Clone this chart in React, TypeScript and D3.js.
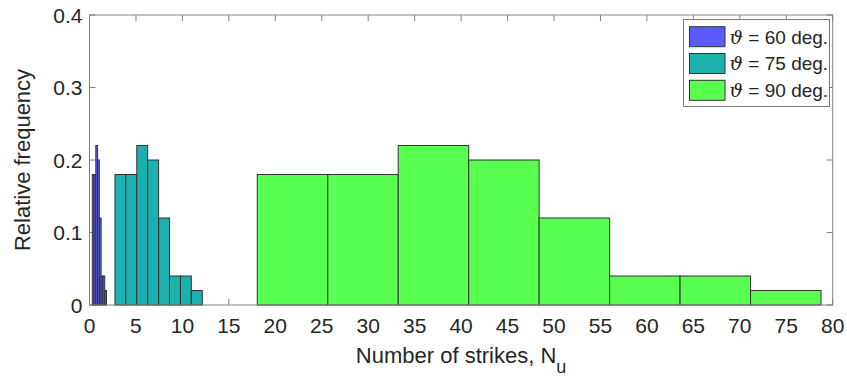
import React, { useEffect } from "react";
import * as d3 from "d3";

// ---- data ----
const freq60 = [0.18, 0.18, 0.22, 0.2, 0.12, 0.04, 0.04, 0.02];
const edges60 = [0.3, 0.49, 0.68, 0.87, 1.06, 1.25, 1.45, 1.64, 1.83];
const freq75 = [0.18, 0.18, 0.22, 0.2, 0.12, 0.04, 0.04, 0.02];
const edges75 = [2.74, 3.91, 5.09, 6.26, 7.44, 8.61, 9.79, 10.96, 12.14];
const freq90 = [0.18, 0.18, 0.22, 0.2, 0.12, 0.04, 0.04, 0.02];
const edges90 = [18.06, 25.65, 33.23, 40.82, 48.4, 55.99, 63.57, 71.16, 78.74];
const xTicks = [0, 5, 10, 15, 20, 25, 30, 35, 40, 45, 50, 55, 60, 65, 70, 75, 80];
const yTicks = [0, 0.1, 0.2, 0.3, 0.4];
const yTickLabels = ["0", "0.1", "0.2", "0.3", "0.4"];
const seriesNames = ["60", "75", "90"];
const seriesColors = ["#5a5aff", "#1cb0ae", "#58ff50"];

const W = 847;
const H = 376;
const M = { left: 89.5, right: 832.7, top: 15, bottom: 305 };
const FONT = "'Liberation Sans', Arial, Helvetica, sans-serif";

export default function App() {
  useEffect(() => {
    document.body.style.margin = "0";
  }, []);

  const x = d3.scaleLinear().domain([0, 80]).range([M.left, M.right]);
  const y = d3.scaleLinear().domain([0, 0.4]).range([M.bottom, M.top]);
  const axisColor = "#808080";
  const tickLen = 6;

  const series = [
    { freq: freq60, edges: edges60 },
    { freq: freq75, edges: edges75 },
    { freq: freq90, edges: edges90 },
  ];

  const legend = { x0: 683.5, y0: 19.5, w: 146, h: 87, rowH: 26.8 };

  return (
    <svg
      width={W}
      height={H}
      style={{ position: "absolute", left: 0, top: 0, background: "#fff" }}
      fontFamily={FONT}
    >
      {/* ticks (under bars) */}
      <g stroke={axisColor} strokeWidth={1}>
        {xTicks.map((t) => (
          <g key={"xt" + t}>
            <line x1={x(t)} x2={x(t)} y1={M.bottom} y2={M.bottom - tickLen} />
            <line x1={x(t)} x2={x(t)} y1={M.top} y2={M.top + tickLen} />
          </g>
        ))}
        {yTicks.map((t) => (
          <g key={"yt" + t}>
            <line x1={M.left} x2={M.left + tickLen} y1={y(t)} y2={y(t)} />
            <line x1={M.right} x2={M.right - tickLen} y1={y(t)} y2={y(t)} />
          </g>
        ))}
      </g>

      {/* bars */}
      {series.map((s, si) => (
        <g key={"s" + si} fill={seriesColors[si]} stroke="#333" strokeWidth={1}>
          {s.freq.map((f, i) => (
            <rect
              key={i}
              x={x(s.edges[i])}
              y={y(f)}
              width={x(s.edges[i + 1]) - x(s.edges[i])}
              height={y(0) - y(f)}
            />
          ))}
        </g>
      ))}

      {/* frame */}
      <rect
        x={M.left}
        y={M.top}
        width={M.right - M.left}
        height={M.bottom - M.top}
        fill="none"
        stroke={axisColor}
        strokeWidth={1}
      />

      {/* x tick labels */}
      <g fontSize={21} fill="#262626" textAnchor="middle">
        {xTicks.map((t) => (
          <text key={"xl" + t} x={x(t)} y={333}>
            {t}
          </text>
        ))}
      </g>
      {/* y tick labels */}
      <g fontSize={21} fill="#262626" textAnchor="end">
        {yTicks.map((t, i) => (
          <text key={"yl" + t} x={M.left - 7} y={y(t)} dy="0.36em">
            {yTickLabels[i]}
          </text>
        ))}
      </g>

      {/* axis labels */}
      <text x={(M.left + M.right) / 2} y={363} fontSize={22} fill="#262626" textAnchor="middle">
        Number of strikes, N
        <tspan fontSize={18} dy={10}>u</tspan>
      </text>
      <text
        transform={`translate(30, ${(M.top + M.bottom) / 2}) rotate(-90)`}
        fontSize={22}
        fill="#262626"
        textAnchor="middle"
      >
        Relative frequency
      </text>

      {/* legend */}
      <rect
        x={legend.x0}
        y={legend.y0}
        width={legend.w}
        height={legend.h}
        fill="#fff"
        stroke="#777"
        strokeWidth={1}
      />
      {seriesNames.map((n, i) => {
        const cy = 36.7 + i * legend.rowH;
        return (
          <g key={"lg" + n}>
            <rect
              x={689.5}
              y={cy - 10}
              width={35.5}
              height={20}
              fill={seriesColors[i]}
              stroke="#333"
              strokeWidth={1}
            />
            <text x={729.5} y={cy} dy="0.36em" fontSize={19} fill="#262626">
              <tspan fontFamily="'DejaVu Serif', 'Liberation Serif', serif" fontStyle="italic">
                ϑ
              </tspan>
              {` = ${n} deg.`}
            </text>
          </g>
        );
      })}
    </svg>
  );
}
